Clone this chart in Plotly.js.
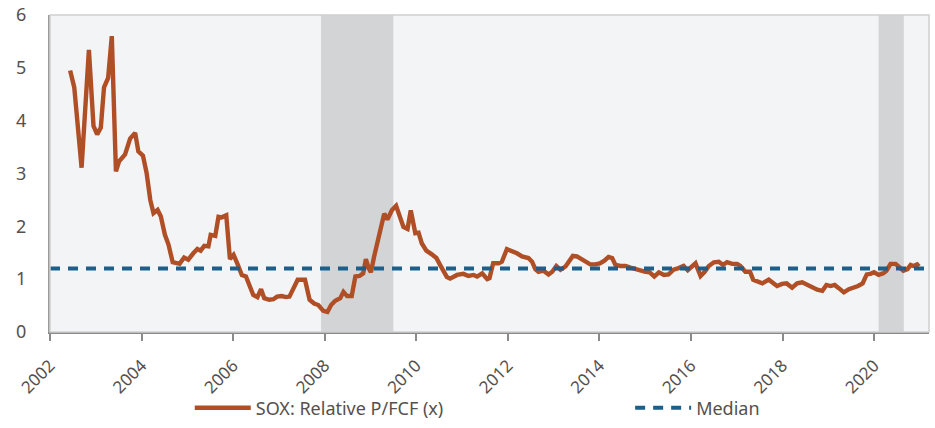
<!DOCTYPE html>
<html>
<head>
<meta charset="utf-8">
<script src="https://cdn.plot.ly/plotly-3.0.1.min.js"></script>
<style>html,body{margin:0;padding:0;background:#fff;}#chart{width:935px;height:428px;}</style>
</head>
<body>
<div id="chart"></div>
<script>
// Decimal years
const years = [2002.44,2002.53,2002.69,2002.85,2002.95,2003.03,2003.11,2003.18,2003.27,2003.35,2003.44,2003.51,2003.64,2003.75,2003.86,2003.93,2004.03,2004.11,2004.19,2004.26,2004.35,2004.42,2004.51,2004.59,2004.68,2004.83,2004.93,2005.02,2005.13,2005.22,2005.29,2005.37,2005.46,2005.51,2005.61,2005.68,2005.75,2005.85,2005.93,2006.01,2006.09,2006.19,2006.28,2006.37,2006.44,2006.53,2006.61,2006.68,2006.79,2006.88,2006.96,2007.06,2007.16,2007.23,2007.33,2007.41,2007.57,2007.67,2007.77,2007.86,2007.97,2008.06,2008.14,2008.23,2008.34,2008.41,2008.49,2008.59,2008.67,2008.76,2008.84,2008.90,2008.96,2009.01,2009.08,2009.15,2009.21,2009.30,2009.37,2009.47,2009.56,2009.63,2009.72,2009.81,2009.88,2009.98,2010.05,2010.12,2010.22,2010.34,2010.44,2010.52,2010.60,2010.67,2010.74,2010.89,2011.03,2011.14,2011.25,2011.33,2011.44,2011.55,2011.60,2011.68,2011.80,2011.87,2011.98,2012.09,2012.20,2012.31,2012.45,2012.53,2012.60,2012.67,2012.78,2012.89,2012.97,2013.06,2013.15,2013.26,2013.33,2013.42,2013.51,2013.60,2013.69,2013.80,2013.91,2014.01,2014.11,2014.20,2014.28,2014.35,2014.46,2014.57,2014.68,2014.79,2014.90,2015.01,2015.10,2015.20,2015.30,2015.41,2015.51,2015.62,2015.73,2015.84,2015.93,2016.10,2016.21,2016.30,2016.39,2016.50,2016.61,2016.70,2016.79,2016.90,2017.01,2017.08,2017.19,2017.29,2017.36,2017.46,2017.56,2017.70,2017.77,2017.88,2017.99,2018.09,2018.21,2018.32,2018.43,2018.54,2018.65,2018.76,2018.87,2018.96,2019.05,2019.14,2019.23,2019.34,2019.45,2019.56,2019.65,2019.75,2019.84,2019.92,2020.00,2020.10,2020.20,2020.27,2020.36,2020.47,2020.54,2020.64,2020.73,2020.80,2020.86,2020.94,2020.98];
const soxRelPFCF = [4.95,4.63,3.11,5.34,3.90,3.74,3.87,4.63,4.81,5.60,3.04,3.23,3.36,3.66,3.77,3.42,3.34,3.01,2.50,2.25,2.31,2.19,1.84,1.65,1.32,1.29,1.41,1.37,1.49,1.57,1.54,1.63,1.62,1.84,1.82,2.18,2.17,2.21,1.38,1.46,1.30,1.08,1.05,0.85,0.70,0.66,0.81,0.64,0.61,0.62,0.67,0.68,0.66,0.67,0.85,0.99,0.99,0.61,0.54,0.51,0.40,0.38,0.51,0.59,0.64,0.76,0.68,0.68,1.05,1.06,1.11,1.38,1.21,1.13,1.43,1.71,1.87,2.24,2.13,2.31,2.39,2.22,1.99,1.95,2.30,1.87,1.88,1.68,1.54,1.47,1.40,1.27,1.14,1.04,1.01,1.08,1.10,1.06,1.08,1.05,1.11,1.00,1.02,1.30,1.30,1.33,1.57,1.54,1.49,1.43,1.40,1.33,1.19,1.14,1.16,1.09,1.14,1.25,1.18,1.24,1.33,1.44,1.43,1.38,1.32,1.28,1.28,1.30,1.35,1.42,1.40,1.27,1.25,1.25,1.22,1.19,1.18,1.14,1.13,1.05,1.13,1.08,1.09,1.18,1.21,1.25,1.17,1.30,1.06,1.14,1.25,1.32,1.33,1.27,1.32,1.29,1.29,1.25,1.14,1.14,0.99,0.95,0.92,0.99,0.94,0.87,0.91,0.92,0.84,0.92,0.94,0.89,0.85,0.80,0.78,0.89,0.87,0.89,0.83,0.75,0.81,0.84,0.87,0.92,1.09,1.10,1.13,1.08,1.11,1.16,1.29,1.29,1.24,1.16,1.19,1.27,1.25,1.28,1.24];
const medianValue = 1.2;
const medianRange = [2002, 2021.2];
const recessions = [[2007.92, 2009.5], [2020.1, 2020.65]];
const tickYears = [2002,2004,2006,2008,2010,2012,2014,2016,2018,2020];
const tickText = ["2002","2004","2006","2008","2010","2012","2014","2016","2018","2020"];
const yTicks = [0,1,2,3,4,5,6];

const font = "'Noto Sans', 'Open Sans', sans-serif";
const textColor = "#56504c";

const traces = [
  {
    x: years, y: soxRelPFCF, type: "scatter", mode: "lines",
    name: "SOX: Relative P/FCF (x)", legend: "legend",
    line: {color: "#b04e26", width: 4.4}
  },
  {
    x: medianRange, y: [medianValue, medianValue], type: "scatter", mode: "lines",
    name: "Median", legend: "legend2",
    line: {color: "#1c5f8b", width: 4, dash: "10px,8px"}
  }
];

const shapes = recessions.map(r => ({
  type: "rect", xref: "x", yref: "paper", x0: r[0], x1: r[1], y0: 0, y1: 1,
  fillcolor: "#d3d4d6", line: {width: 0}, layer: "below"
}));
shapes.push({type: "rect", xref: "paper", yref: "paper", x0: 0, x1: 1, y0: 0, y1: 1,
  line: {color: "#d0d0d0", width: 1.5}, fillcolor: "rgba(0,0,0,0)", layer: "above"});

const legendBase = {
  orientation: "h", yanchor: "middle", y: -0.24, xanchor: "left",
  font: {family: font, size: 18, color: textColor},
  itemwidth: 56, bgcolor: "rgba(0,0,0,0)"
};

const layout = {
  width: 935, height: 428,
  margin: {l: 50, r: 6, t: 15, b: 96, autoexpand: false},
  paper_bgcolor: "#ffffff",
  plot_bgcolor: "#f3f4f6",
  font: {family: font, size: 18, color: textColor},
  showlegend: true,
  legend: Object.assign({}, legendBase, {x: 0.159}),
  legend2: Object.assign({}, legendBase, {x: 0.66}),
  xaxis: {
    range: [2002, 2021.2], tickmode: "array", tickvals: tickYears, ticktext: tickText,
    tickangle: -45, showgrid: false, zeroline: false,
    showline: true, linecolor: "#8a8a8a", linewidth: 2,
    ticks: "outside", ticklen: 7, tickwidth: 2, tickcolor: "#8a8a8a",
    ticklabelstandoff: 8,
    tickfont: {family: font, size: 17, color: textColor}
  },
  yaxis: {
    range: [0, 6], tickmode: "array", tickvals: yTicks,
    showgrid: false, zeroline: false,
    showline: true, linecolor: "#9a9a9a", linewidth: 2,
    ticks: "", ticklabelstandoff: 18,
    tickfont: {family: font, size: 18, color: textColor}
  },
  shapes: shapes
};

Plotly.newPlot("chart", traces, layout, {displayModeBar: false, staticPlot: true});
</script>
</body>
</html>
